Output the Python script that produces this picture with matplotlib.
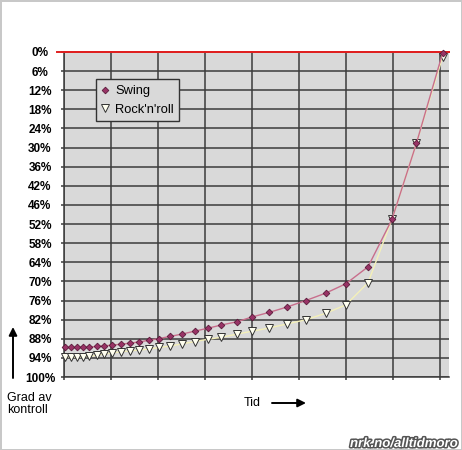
#!/usr/bin/env python3
"""Swing vs Rock'n'roll: grad av kontroll over tid."""

import matplotlib

matplotlib.use("Agg")

import matplotlib.patheffects as pe
import matplotlib.pyplot as plt
from matplotlib.lines import Line2D

# time axis (arbitrary units, one gridline per 10)
TID = [0.3, 1.5, 2.8, 4.1, 5.4, 7.0, 8.6, 10.3, 12.1, 14.0, 16.0, 18.1, 20.2,
       22.6, 25.1, 27.8, 30.6, 33.5, 36.8, 40.1, 43.7, 47.4, 51.4, 55.7, 60.0,
       64.7, 69.8, 75.0, 80.6]

# degree of control, percent (0 at the top)
SWING = [90.9, 90.9, 90.9, 90.8, 90.8, 90.6, 90.4, 90.2, 89.9, 89.6, 89.2,
         88.7, 88.2, 87.5, 86.8, 85.9, 85.0, 84.0, 83.0, 81.5, 80.1, 78.5,
         76.5, 74.2, 71.3, 66.1, 51.5, 28.1, 0.2]
ROCK = [93.8, 93.9, 93.9, 93.8, 93.6, 93.3, 92.9, 92.6, 92.2, 92.0, 91.7,
        91.4, 90.9, 90.5, 89.8, 89.1, 88.4, 87.8, 86.8, 85.9, 84.9, 83.7,
        82.4, 80.4, 77.8, 71.0, 51.5, 28.1, 1.4]

Y_LABELS = ["0%", "6%", "12%", "18%", "24%", "30%", "36%", "42%", "46%",
            "52%", "58%", "64%", "70%", "76%", "82%", "88%", "94%", "100%"]
X_GRID = [0, 10, 20, 30, 40, 50, 60, 70, 80]
X_MAX = 82.0

FONT = "Liberation Sans"
GRID_COLOR = "#3c3c3c"
PLOT_BG = "#d9d9d9"


def main():
    fig = plt.figure(figsize=(4.62, 4.5), dpi=100)
    fig.patch.set_facecolor("white")
    fig.patch.set_edgecolor("#c8c8c8")
    fig.patch.set_linewidth(2)

    ax = fig.add_axes([64 / 462, 1 - 377 / 450, 385.3 / 462, 325 / 450])
    ax.set_facecolor(PLOT_BG)

    n = len(Y_LABELS) - 1
    y_ticks = [100 * i / n for i in range(n + 1)]
    ax.set_yticks(y_ticks)
    ax.set_yticklabels(Y_LABELS, fontsize=8.5, family=FONT, fontweight="bold",
                       ha="center")
    ax.set_xticks(X_GRID)
    ax.set_xticklabels([])
    ax.set_xlim(0, X_MAX)
    ax.set_ylim(100, 0)

    ax.grid(True, color=GRID_COLOR, linewidth=1.1, zorder=1)
    ax.set_axisbelow(True)
    ax.tick_params(axis="both", direction="out", length=2.2, width=1.1,
                   color=GRID_COLOR)
    # labels centred about x = 40 px, as in the original
    ax.tick_params(axis="y", pad=15.1)

    ax.spines["right"].set_visible(False)
    ax.spines["left"].set_color(GRID_COLOR)
    ax.spines["bottom"].set_color(GRID_COLOR)
    ax.spines["left"].set_linewidth(1.1)
    ax.spines["bottom"].set_linewidth(1.1)
    ax.spines["top"].set_color("#e02020")
    ax.spines["top"].set_linewidth(1.4)

    # red zero line sticks out a little to the left
    ax.add_line(Line2D([-0.018, 1], [1, 1], transform=ax.transAxes,
                       color="#e02020", linewidth=1.4, clip_on=False, zorder=2))

    ax.plot(TID, SWING, color="#c86e8c", linewidth=1.0, marker="D",
            markersize=3.4, markerfacecolor="#993366",
            markeredgecolor="#5a1a3a", markeredgewidth=0.6,
            label="Swing", clip_on=False, zorder=4)
    ax.plot(TID, ROCK, color="#f4f0b8", linewidth=1.0, marker="v",
            markersize=6, markerfacecolor="#fffff0",
            markeredgecolor="#333333", markeredgewidth=0.7,
            label="Rock'n'roll", clip_on=False, zorder=3)

    leg = ax.legend(loc="upper left", bbox_to_anchor=(0.082, 0.916),
                    borderaxespad=0, fancybox=False, frameon=True,
                    prop={"family": FONT, "size": 9.3}, handlelength=0.6,
                    handletextpad=0.45, borderpad=0.45, labelspacing=0.5)
    frame = leg.get_frame()
    frame.set_facecolor(PLOT_BG)
    frame.set_edgecolor("#333333")
    frame.set_linewidth(1.0)
    frame.set_alpha(1)
    for handle in leg.legend_handles:
        handle.set_linestyle("none")

    # axis captions with arrows
    fig.text(7 / 462, 1 - 392 / 450, "Grad av\nkontroll", family=FONT,
             fontsize=9, va="top", ha="left", linespacing=1.05)
    ax.annotate("", xy=(13, 450 - 327), xytext=(13, 450 - 378),
                xycoords="figure pixels", textcoords="figure pixels",
                arrowprops=dict(arrowstyle="-|>", color="black", lw=1.4,
                                mutation_scale=12, shrinkA=0, shrinkB=0),
                annotation_clip=False)

    fig.text(244 / 462, 1 - 403 / 450, "Tid", family=FONT, fontsize=9,
             va="center", ha="left")
    ax.annotate("", xy=(306, 450 - 403), xytext=(272, 450 - 403),
                xycoords="figure pixels", textcoords="figure pixels",
                arrowprops=dict(arrowstyle="-|>", color="black", lw=1.4,
                                mutation_scale=12, shrinkA=0, shrinkB=0),
                annotation_clip=False)

    # watermark
    fig.text(458 / 462, 1 - 444 / 450, "nrk.no/alltidmoro", family=FONT,
             fontsize=9.5, fontweight="bold", fontstyle="italic",
             color="white", ha="right", va="center",
             path_effects=[pe.withStroke(linewidth=2.2, foreground="#555555")])

    fig.savefig("out.png", dpi=100)
    plt.close(fig)


if __name__ == "__main__":
    main()
